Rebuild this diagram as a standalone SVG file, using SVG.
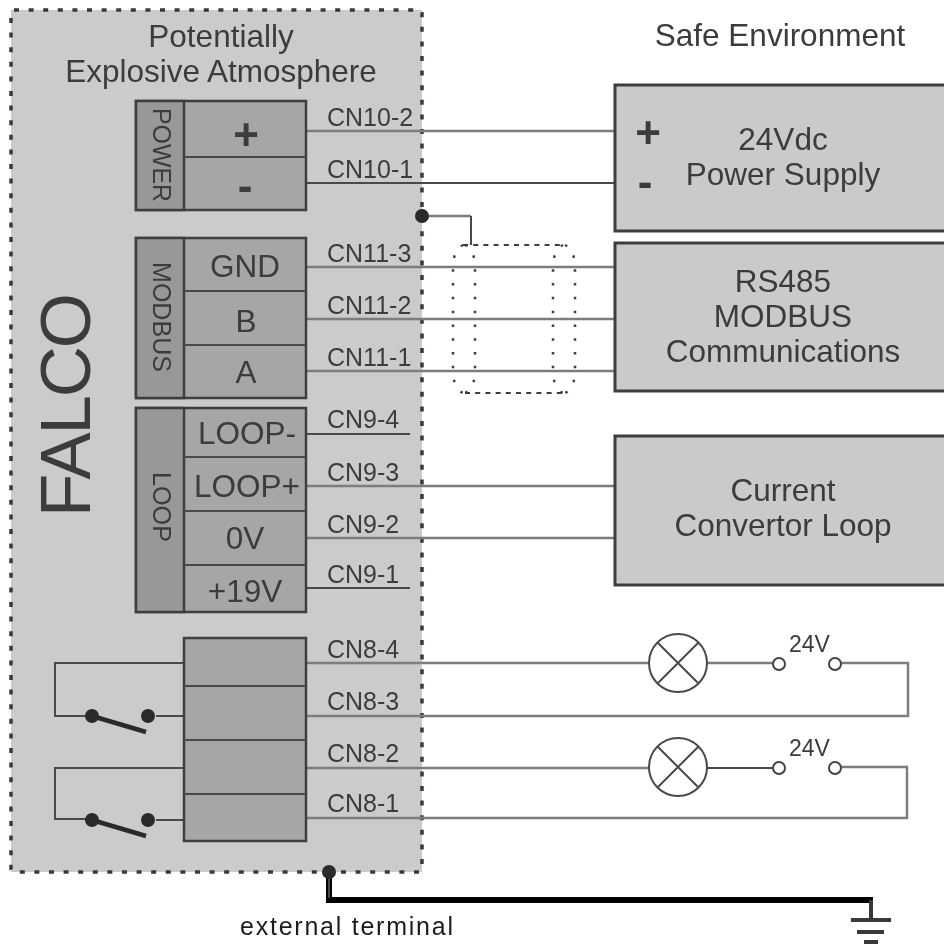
<svg xmlns="http://www.w3.org/2000/svg" width="944" height="945" viewBox="0 0 944 945">
<style>
text{font-family:"Liberation Sans",Arial,sans-serif;fill:#3c3b3d}
.m{text-anchor:middle}
.t{font-size:31.5px}
.c{font-size:25px}
.r{font-size:26px}
.sym{font-size:44px;font-weight:bold}
.panel{fill:#cccacd}
.box{fill:#cbc9cc;stroke:#3f3e40;stroke-width:3}
.side{fill:#999899;stroke:#3f3e40;stroke-width:2.5}
.cell{fill:#a6a5a7;stroke:#3f3e40;stroke-width:2.5}
.w{fill:none;stroke:#4a494b;stroke-width:2}
.wl{fill:none;stroke:#7d7c7e;stroke-width:2.5}
.dot{fill:#2b2a2c}
.lamp{fill:none;stroke:#4a494b;stroke-width:2}
.term{fill:#fff;stroke:#444345;stroke-width:2}
.blade{stroke:#2b2a2c;stroke-width:4.5}
.gnd{stroke:#3a393b;stroke-width:4}
</style>
<defs><filter id="soft" filterUnits="userSpaceOnUse" x="0" y="0" width="944" height="945"><feGaussianBlur stdDeviation="0.4"/></filter></defs>
<g filter="url(#soft)">
<g id="zone">
<rect class="panel" x="11" y="10" width="411" height="862"/>
<rect x="11" y="10" width="411" height="862" rx="3" fill="none" stroke="#3a393b" stroke-width="3.5" stroke-dasharray="5 9.6"/>
<text class="t m" x="221" y="47">Potentially</text>
<text class="t m" x="221" y="82">Explosive Atmosphere</text>
<text x="90" y="405" font-size="71" class="m" transform="rotate(-90 90 405)" textLength="224">FALCO</text>
</g>
<g id="connectors">
<path class="wl" d="M306 131H615"/>
<path class="w" d="M306 183H615"/>
<path class="wl" d="M306 267H615M306 371H615"/>
<path class="wl" stroke-width="3" d="M306 319H615"/>
<path class="w" d="M306 434H410M306 588H410"/>
<path class="wl" d="M306 486H615M306 538H615"/>
<path class="wl" d="M306 663H650M707 663H774M841 663H908V716H306"/>
<path class="wl" d="M306 768H650M306 818H907V767H841"/>
<path class="w" d="M707 768H774"/>
<path class="w" d="M184 663H55V716H91M156 716H184M184 768H55V819H91M156 820H184"/>
<path class="wl" d="M422 216H471"/>
<path class="w" d="M471 216V245"/>
<path fill="none" stroke="#000" stroke-width="6" d="M329 872V900H873"/>
<path class="w" stroke-width="3" d="M329 872V898"/>
</g>
<g id="shield" fill="none" stroke="#3f3e40">
<path stroke-width="2" stroke-dasharray="5 5.2" d="M463 245H565M465 393H565"/>
<path stroke-width="2.5" stroke-dasharray="2.5 11.3" d="M463 245Q453 250 453 268V370Q453 388 463 393M465 245Q475 250 475 268V370Q475 388 465 393M563 245Q553 250 553 268V370Q553 388 563 393M565 245Q575 250 575 268V370Q575 388 565 393"/>
</g>
<g id="power">
<rect class="cell" x="136" y="101" width="170" height="109"/>
<rect class="side" x="136" y="101" width="48" height="109"/>
<path class="w" d="M184 157H306"/>
<text class="r" x="153" y="108" transform="rotate(90 153 108)" textLength="94" lengthAdjust="spacingAndGlyphs">POWER</text>
<text class="m sym" x="246" y="150">+</text>
<text class="m sym" x="245" y="201">-</text>
<text class="c" x="327" y="126">CN10-2</text>
<text class="c" x="327" y="178">CN10-1</text>
</g>
<g id="modbus">
<rect class="cell" x="136" y="238" width="170" height="160"/>
<rect class="side" x="136" y="238" width="48" height="160"/>
<path class="w" d="M184 291H306M184 345H306"/>
<text class="r" x="153" y="262" transform="rotate(90 153 262)" textLength="110" lengthAdjust="spacingAndGlyphs">MODBUS</text>
<text class="t m" x="245" y="277">GND</text>
<text class="t m" x="246" y="332">B</text>
<text class="t m" x="246" y="383">A</text>
<text class="c" x="327" y="262">CN11-3</text>
<text class="c" x="327" y="314">CN11-2</text>
<text class="c" x="327" y="366">CN11-1</text>
</g>
<g id="loop">
<rect class="cell" x="136" y="408" width="170" height="204"/>
<rect class="side" x="136" y="408" width="48" height="204"/>
<path class="w" stroke-width="2.5" d="M184 457H306M184 511H306M184 565H306"/>
<text class="r" x="153" y="472" transform="rotate(90 153 472)" textLength="70" lengthAdjust="spacingAndGlyphs">LOOP</text>
<text class="t m" x="247" y="444">LOOP-</text>
<text class="t m" x="247" y="497">LOOP+</text>
<text class="t m" x="245" y="549">0V</text>
<text class="t m" x="245" y="602">+19V</text>
<text class="c" x="327" y="428">CN9-4</text>
<text class="c" x="327" y="481">CN9-3</text>
<text class="c" x="327" y="533">CN9-2</text>
<text class="c" x="327" y="583">CN9-1</text>
</g>
<g id="relays">
<rect class="cell" x="184" y="638" width="122" height="203"/>
<path class="w" stroke-width="2.5" d="M184 686H306M184 740H306M184 794H306"/>
<text class="c" x="327" y="658">CN8-4</text>
<text class="c" x="327" y="710">CN8-3</text>
<text class="c" x="327" y="762">CN8-2</text>
<text class="c" x="327" y="812">CN8-1</text>
</g>
<g id="switch1">
<circle class="dot" cx="92" cy="716" r="7"/><circle class="dot" cx="148" cy="716" r="7"/>
<path class="blade" d="M92 716L146 732"/>
</g>
<g id="switch2">
<circle class="dot" cx="92" cy="820" r="7"/><circle class="dot" cx="148" cy="820" r="7"/>
<path class="blade" d="M92 820L146 836"/>
</g>
<g id="supply">
<rect class="box" x="615" y="85" width="335" height="146"/>
<text class="m sym" x="648" y="148">+</text>
<text class="m sym" x="645" y="197">-</text>
<text class="t m" x="783" y="150">24Vdc</text>
<text class="t m" x="783" y="185">Power Supply</text>
</g>
<g id="rs485">
<rect class="box" x="615" y="243" width="335" height="148"/>
<text class="t m" x="783" y="292">RS485</text>
<text class="t m" x="783" y="327">MODBUS</text>
<text class="t m" x="783" y="362">Communications</text>
</g>
<g id="current">
<rect class="box" x="615" y="436" width="335" height="149"/>
<text class="t m" x="783" y="501">Current</text>
<text class="t m" x="783" y="536">Convertor Loop</text>
</g>
<g id="safe-title"><text class="t m" x="780" y="46">Safe Environment</text></g>
<g id="lamp1">
<circle class="lamp" cx="678" cy="663" r="29"/>
<path class="lamp" d="M658 643L698 683M698 643L658 683"/>
</g>
<g id="lamp2">
<circle class="lamp" cx="678" cy="767" r="29"/>
<path class="lamp" d="M658 747L698 787M698 747L658 787"/>
</g>
<g id="contact1">
<circle class="term" cx="779" cy="664" r="6"/><circle class="term" cx="835" cy="664" r="6"/>
<text x="789" y="652" font-size="23">24V</text>
</g>
<g id="contact2">
<circle class="term" cx="779" cy="768" r="6"/><circle class="term" cx="835" cy="768" r="6"/>
<text x="789" y="756" font-size="23">24V</text>
</g>
<g id="nodes-dots">
<circle class="dot" cx="422" cy="216" r="7"/>
<circle class="dot" cx="329" cy="872" r="7"/>
</g>
<g id="earth">
<path class="gnd" d="M871 900V920M851 920H891M857 932H884M864 942H878"/>
<text x="240" y="935" font-size="25" style="fill:#1c1b1d" textLength="213" lengthAdjust="spacing">external terminal</text>
</g>
</g>
</svg>
